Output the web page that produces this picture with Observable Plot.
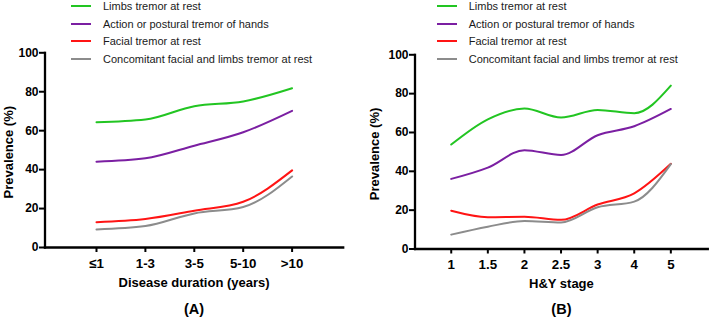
<!DOCTYPE html>
<html>
<head>
<meta charset="utf-8">
<script src="https://cdn.jsdelivr.net/npm/d3@7"></script>
<script src="https://cdn.jsdelivr.net/npm/@observablehq/plot@0.6"></script>
<style>
  html, body { margin: 0; padding: 0; background: #fff; }
  #wrap { position: relative; width: 709px; height: 317px; display: flex; font-family: "Liberation Sans", Arial, sans-serif; }
  .panel { position: relative; height: 317px; }
  .legend { position: absolute; left: 0; top: 0; }
  .item { position: absolute; height: 14px; display: flex; align-items: center; white-space: nowrap; font-size: 11px; color: #1a1a1a; }
  .swatch { width: 20px; height: 2px; }
</style>
</head>
<body>
<div id="wrap"></div>
<script>
// ---- data ----
const seriesNames = [
  "Limbs tremor at rest",
  "Action or postural tremor of hands",
  "Facial tremor at rest",
  "Concomitant facial and limbs tremor at rest"
];
const seriesColors = ["#22c522", "#7b1fa2", "#ff1414", "#8c8c8c"];

const durationLabels = ["≤1", "1-3", "3-5", "5-10", ">10"];
const durLimbs       = [64.3, 65.7, 72.6, 75.0, 81.8];
const durAction      = [44.1, 45.8, 52.3, 59.2, 70.2];
const durFacial      = [13.0, 14.6, 18.9, 23.5, 39.6];
const durConcomitant = [9.3, 11.0, 17.5, 20.8, 36.5];

const stageLabels      = ["1", "1.5", "2", "2.5", "3", "4", "5"];
const stageLimbs       = [53.8, 66.8, 72.3, 67.7, 71.6, 69.9, 84.1];
const stageAction      = [36.1, 41.9, 50.9, 48.4, 58.6, 63.2, 72.1];
const stageFacial      = [19.7, 16.4, 16.6, 15.0, 22.9, 28.7, 43.9];
const stageConcomitant = [7.4, 11.5, 14.4, 13.7, 21.5, 24.4, 43.7];

const yTicks = [0, 20, 40, 60, 80, 100];

function toRows(seriesArrays) {
  const rows = [];
  seriesArrays.forEach((arr, s) => {
    arr.forEach((v, i) => rows.push({x: i + 1, y: v, series: seriesNames[s]}));
  });
  return rows;
}

function panel(cfg) {
  const rows = toRows(cfg.series);
  const chart = Plot.plot({
    width: cfg.width,
    height: 317,
    marginLeft: cfg.ml,
    marginRight: cfg.mr,
    marginTop: cfg.mt,
    marginBottom: cfg.mb,
    style: {fontFamily: "'Liberation Sans', Arial, sans-serif", fontSize: "12.5px", fontWeight: "bold", color: "#000", background: "transparent", overflow: "visible"},
    x: {domain: cfg.xDomain},
    y: {domain: [0, 100]},
    color: {domain: seriesNames, range: seriesColors},
    marks: [
      Plot.axisY({ticks: yTicks, tickSize: 5.5, tickPadding: 1, strokeWidth: 2, label: null, fontWeight: "bold", fontSize: 12}),
      Plot.axisX({ticks: cfg.labels.map((d, i) => i + 1), tickFormat: d => cfg.labels[d - 1], tickSize: 5, tickPadding: 6, strokeWidth: 2, label: null, fontWeight: "bold", fontSize: 13.3}),
      Plot.line(rows, {x: "x", y: "y", z: "series", stroke: "series", strokeWidth: 2, curve: "monotone-x"}),
      Plot.frame({anchor: "left", strokeWidth: 2.3}),
      Plot.frame({anchor: "bottom", strokeWidth: 2.3}),
      Plot.text([cfg.xTitle], {frameAnchor: "bottom", textAnchor: "middle", lineAnchor: "middle", dy: 35, fontSize: 13, fontWeight: "bold"}),
      Plot.text([cfg.tag], {frameAnchor: "bottom", textAnchor: "middle", lineAnchor: "middle", dy: cfg.tagDy, fontSize: 14.5, fontWeight: "bold"}),
      Plot.text(["Prevalence (%)"], {frameAnchor: "left", textAnchor: "middle", lineAnchor: "middle", rotate: -90, dx: cfg.ytDx, dy: 2, fontSize: 13, fontWeight: "bold"})
    ]
  });
  const div = document.createElement("div");
  div.className = "panel";
  div.style.width = cfg.width + "px";
  div.appendChild(chart);
  const leg = document.createElement("div");
  leg.className = "legend";
  const rowYs = [6, 23.5, 41, 59];
  seriesNames.forEach((name, i) => {
    const it = document.createElement("div");
    it.className = "item";
    it.style.left = cfg.legX + "px";
    it.style.top = (rowYs[i] - 7) + "px";
    const sw = document.createElement("div");
    sw.className = "swatch";
    sw.style.background = seriesColors[i];
    const tx = document.createElement("span");
    tx.style.marginLeft = "12px";
    tx.textContent = name;
    it.appendChild(sw);
    it.appendChild(tx);
    leg.appendChild(it);
  });
  div.appendChild(leg);
  return div;
}

const wrap = document.getElementById("wrap");
wrap.appendChild(panel({
  width: 354, ml: 44.5, mr: 11.3, mt: 52.3, mb: 70,
  xDomain: [-0.053, 6.045],
  labels: durationLabels,
  series: [durLimbs, durAction, durFacial, durConcomitant],
  xTitle: "Disease duration (years)", tag: "(A)", tagDy: 61.5, ytDx: -35.7, legX: 71
}));
wrap.appendChild(panel({
  width: 355, ml: 60.5, mr: 1.7, mt: 54.3, mb: 68.5,
  xDomain: [0.01, 8.01],
  labels: stageLabels,
  series: [stageLimbs, stageAction, stageFacial, stageConcomitant],
  xTitle: "H&Y stage", tag: "(B)", tagDy: 60, ytDx: -39.7, legX: 82.7
}));
</script>
</body>
</html>
